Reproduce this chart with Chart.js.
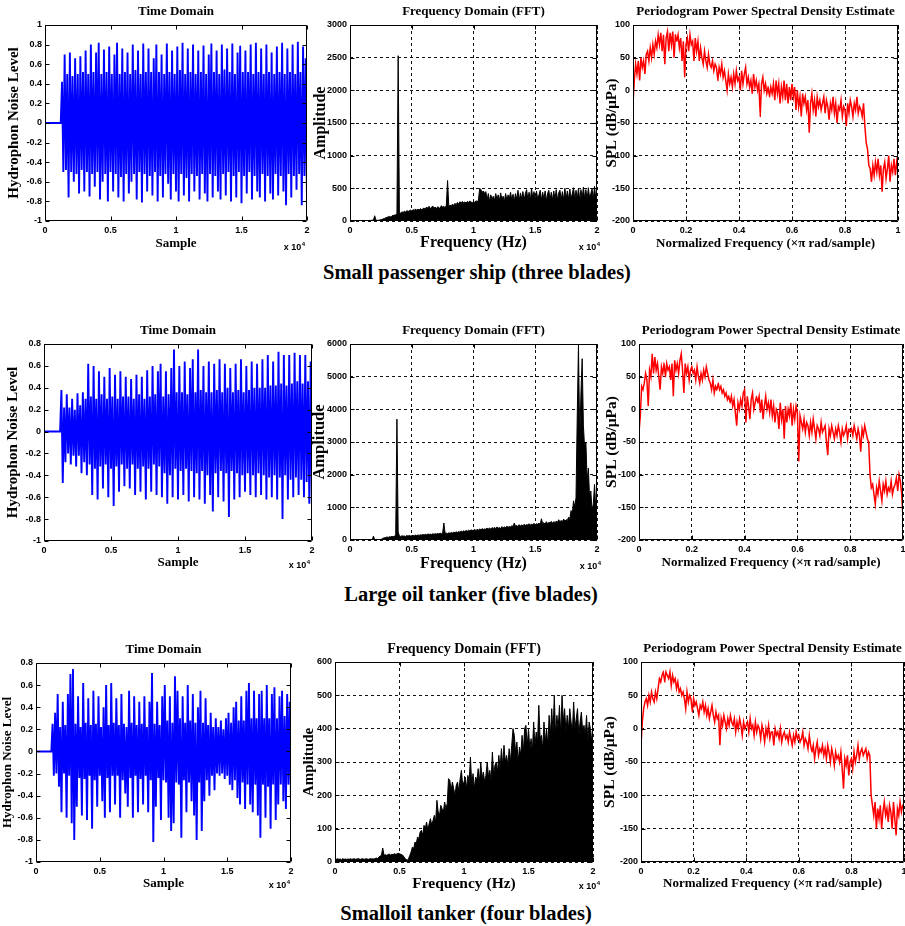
<!DOCTYPE html>
<html>
<head>
<meta charset="utf-8">
<script src="https://cdn.jsdelivr.net/npm/chart.js@4.4.0/dist/chart.umd.min.js"></script>
<style>
  html, body { margin: 0; padding: 0; background: #fff; overflow: hidden; }
  #fig { position: relative; width: 905px; height: 926px; overflow: hidden; background: #fff; }
  #fig canvas { position: absolute; }
  .caption { position: absolute; width: 500px; text-align: center; color: #000;
             font: bold 20.5px 'Liberation Serif', 'Times New Roman', serif; line-height: 24px; }
</style>
</head>
<body>
<div id="fig">
  <div class="caption" style="left:227px; top:260px;"></div>
  <div class="caption" style="left:221px; top:582px;"></div>
  <div class="caption" style="left:216px; top:901px;"></div>
</div>
<script>
// sample spacing of the arrays below
const tdStep = 100;     // samples
const fftStep = 100;    // Hz
const psdStep = 0.005;  // normalized frequency

// time domain, small passenger ship
const td1 = [
  0,0,0,0,0,0,0,0,0,0,0,0,0,
  0.42,-0.50, 0.70,-0.48, 0.50,-0.76, 0.72,-0.50, 0.48,-0.60,
  0.66,-0.52, 0.50,-0.72, 0.68,-0.48, 0.52,-0.70, 0.74,-0.50,
  0.50,-0.75, 0.80,-0.52, 0.52,-0.65, 0.72,-0.50, 0.82,-0.78,
  0.50,-0.60, 0.75,-0.52, 0.52,-0.80, 0.78,-0.50, 0.50,-0.70,
  0.70,-0.52, 0.82,-0.76, 0.50,-0.55, 0.76,-0.80, 0.52,-0.52,
  0.72,-0.72, 0.50,-0.60, 0.80,-0.52, 0.54,-0.78, 0.74,-0.50,
  0.50,-0.81, 0.81,-0.52, 0.52,-0.70, 0.76,-0.54, 0.52,-0.74,
  0.66,-0.50, 0.80,-0.80, 0.52,-0.54, 0.70,-0.76, 0.50,-0.52,
  0.81,-0.62, 0.52,-0.78, 0.74,-0.52, 0.50,-0.70, 0.78,-0.80,
  0.54,-0.52, 0.82,-0.74, 0.50,-0.56, 0.76,-0.80, 0.52,-0.52,
  0.80,-0.70, 0.50,-0.54, 0.74,-0.78, 0.52,-0.52, 0.79,-0.72,
  0.50,-0.80, 0.70,-0.52, 0.81,-0.76, 0.52,-0.54, 0.74,-0.70,
  0.50,-0.78, 0.80,-0.52, 0.54,-0.74, 0.76,-0.50, 0.52,-0.80,
  0.81,-0.54, 0.50,-0.76, 0.72,-0.50, 0.78,-0.82, 0.52,-0.54,
  0.74,-0.72, 0.52,-0.50, 0.80,-0.78, 0.50,-0.54, 0.82,-0.70,
  0.52,-0.76, 0.76,-0.52, 0.50,-0.80, 0.80,-0.54, 0.52,-0.72,
  0.72,-0.78, 0.50,-0.52, 0.78,-0.74, 0.52,-0.54, 0.82,-0.70,
  0.50,-0.84, 0.76,-0.52, 0.52,-0.76, 0.80,-0.54, 0.50,-0.68,
  0.83,-0.52, 0.52,-0.84, 0.78,-0.54, 0.66,-0.80
];

// time domain, large oil tanker
const td2 = [
  0,0,0,0,0,0,0,0,0,0,0,0,0,
  0.38,-0.47, 0.22,-0.28, 0.34,-0.20, 0.22,-0.30, 0.30,-0.22,
  0.20,-0.32, 0.35,-0.22, 0.24,-0.38, 0.36,-0.28, 0.30,-0.40,
  0.62,-0.30, 0.32,-0.58, 0.60,-0.34, 0.30,-0.62, 0.55,-0.32,
  0.34,-0.52, 0.50,-0.30, 0.30,-0.60, 0.58,-0.34, 0.32,-0.68,
  0.52,-0.32, 0.30,-0.55, 0.55,-0.30, 0.32,-0.50, 0.50,-0.34,
  0.32,-0.52, 0.48,-0.30, 0.30,-0.58, 0.52,-0.34, 0.34,-0.55,
  0.50,-0.32, 0.30,-0.62, 0.56,-0.34, 0.32,-0.55, 0.60,-0.30,
  0.34,-0.58, 0.55,-0.32, 0.62,-0.60, 0.32,-0.38, 0.55,-0.66,
  0.34,-0.40, 0.58,-0.60, 0.75,-0.34, 0.36,-0.62, 0.60,-0.36,
  0.36,-0.58, 0.64,-0.34, 0.34,-0.64, 0.58,-0.36, 0.66,-0.60,
  0.36,-0.38, 0.75,-0.62, 0.38,-0.36, 0.60,-0.66, 0.36,-0.40,
  0.64,-0.58, 0.36,-0.73, 0.62,-0.38, 0.38,-0.60, 0.66,-0.36,
  0.36,-0.64, 0.62,-0.38, 0.40,-0.78, 0.58,-0.36, 0.36,-0.62,
  0.62,-0.38, 0.38,-0.60, 0.66,-0.40, 0.36,-0.55, 0.60,-0.38,
  0.38,-0.58, 0.64,-0.40, 0.40,-0.60, 0.62,-0.38, 0.40,-0.58,
  0.66,-0.40, 0.40,-0.62, 0.70,-0.42, 0.42,-0.60, 0.64,-0.40,
  0.42,-0.62, 0.73,-0.42, 0.44,-0.80, 0.70,-0.40, 0.42,-0.62,
  0.70,-0.44, 0.44,-0.60, 0.72,-0.42, 0.46,-0.58, 0.70,-0.44,
  0.44,-0.60, 0.70,-0.46, 0.46,-0.66, 0.64,-0.72
];

// time domain, small oil tanker
const td3 = [
  0,0,0,0,0,0,0,0,0,0,0,0,0,
  0.25,-0.22, 0.35,-0.20, 0.52,-0.32, 0.22,-0.55, 0.45,-0.20,
  0.24,-0.60, 0.52,-0.22, 0.70,-0.65, 0.74,-0.80, 0.25,-0.50,
  0.50,-0.24, 0.22,-0.58, 0.62,-0.25, 0.26,-0.62, 0.48,-0.22,
  0.24,-0.70, 0.55,-0.26, 0.25,-0.50, 0.50,-0.22, 0.22,-0.45,
  0.40,-0.60, 0.60,-0.24, 0.24,-0.55, 0.62,-0.22, 0.26,-0.48,
  0.48,-0.22, 0.24,-0.60, 0.52,-0.26, 0.25,-0.38, 0.22,-0.50,
  0.55,-0.24, 0.26,-0.60, 0.50,-0.22, 0.24,-0.55, 0.45,-0.25,
  0.25,-0.48, 0.50,-0.22, 0.22,-0.55, 0.45,-0.26, 0.71,-0.82,
  0.25,-0.50, 0.45,-0.24, 0.24,-0.62, 0.50,-0.26, 0.60,-0.28,
  0.28,-0.60, 0.50,-0.72, 0.26,-0.65, 0.68,-0.28, 0.55,-0.30,
  0.30,-0.78, 0.50,-0.26, 0.26,-0.55, 0.60,-0.28, 0.28,-0.45,
  0.52,-0.58, 0.26,-0.80, 0.40,-0.28, 0.55,-0.72, 0.26,-0.45,
  0.48,-0.26, 0.24,-0.40, 0.35,-0.22, 0.22,-0.35, 0.30,-0.20,
  0.22,-0.22, 0.28,-0.20, 0.20,-0.25, 0.30,-0.22, 0.35,-0.30,
  0.26,-0.35, 0.40,-0.26, 0.45,-0.42, 0.28,-0.48, 0.50,-0.28,
  0.28,-0.52, 0.55,-0.30, 0.62,-0.48, 0.30,-0.55, 0.55,-0.30,
  0.30,-0.58, 0.52,-0.78, 0.55,-0.30, 0.30,-0.60, 0.60,-0.32,
  0.30,-0.70, 0.52,-0.30, 0.58,-0.62, 0.30,-0.48, 0.50,-0.30,
  0.55,-0.45, 0.32,-0.52, 0.52,-0.30, 0.45,-0.48
];

// FFT magnitudes
const fft1 = [
  10, 8, 6, 5, 5, 4, 5, 4, 5, 6,
  5, 6, 5, 6, 8, 6, 10, 8, 12, 15,
  80, 12, 10, 12, 15, 20, 25, 35, 40, 50,
  55, 65, 70, 60, 80, 85, 90, 95, 110, 2530,
  130, 120, 140, 130, 150, 135, 160, 145, 155, 170,
  150, 175, 160, 185, 165, 180, 170, 190, 175, 185,
  200, 180, 215, 195, 225, 190, 210, 230, 195, 215,
  185, 220, 200, 195, 235, 210, 225, 200, 240, 620,
  220, 245, 225, 260, 235, 270, 250, 285, 260, 295,
  270, 300, 280, 290, 275, 300, 285, 305, 290, 280,
  300, 285, 310, 295, 320, 500, 480, 440, 460, 420,
  450, 320, 420, 300, 400, 330, 380, 310, 420, 330,
  400, 310, 430, 330, 380, 300, 420, 320, 400, 340,
  440, 320, 410, 300, 420, 330, 470, 310, 430, 340,
  450, 320, 420, 480, 330, 440, 310, 500, 340, 450,
  320, 460, 330, 400, 470, 320, 440, 340, 460, 310,
  420, 470, 330, 440, 320, 460, 340, 480, 320, 430,
  470, 330, 450, 320, 500, 340, 460, 330, 490, 340,
  420, 510, 330, 470, 340, 500, 320, 480, 350, 520,
  340, 480, 330, 510, 350, 420, 490, 330, 530, 350,
  420
];
const fft2 = [
  10, 6, 5, 4, 5, 4, 5, 4, 5, 5,
  5, 4, 5, 6, 5, 6, 5, 6, 8, 120,
  10, 8, 10, 12, 15, 20, 30, 60, 70, 80,
  90, 80, 100, 95, 110, 100, 120, 130, 3700, 250,
  120, 110, 130, 115, 125, 110, 135, 120, 140, 125,
  130, 145, 125, 150, 135, 155, 140, 160, 150, 170,
  155, 175, 160, 185, 170, 180, 165, 190, 175, 195,
  180, 200, 185, 210, 190, 205, 520, 200, 215, 195,
  220, 205, 230, 215, 240, 225, 250, 230, 260, 240,
  270, 250, 280, 260, 290, 270, 300, 280, 310, 290,
  300, 320, 290, 330, 300, 340, 310, 350, 320, 340,
  330, 360, 340, 370, 330, 380, 350, 390, 340, 400,
  360, 380, 350, 410, 370, 400, 380, 420, 390, 410,
  400, 440, 410, 520, 420, 450, 410, 470, 430, 460,
  440, 480, 450, 470, 460, 500, 450, 490, 470, 510,
  460, 500, 480, 520, 470, 650, 500, 530, 480, 560,
  500, 540, 520, 570, 510, 560, 530, 580, 540, 620,
  550, 600, 560, 640, 580, 620, 600, 700, 650, 900,
  800, 1200, 1000, 1300, 3800, 6000, 3000, 4500, 5550, 3500,
  2800, 3000, 1800, 2200, 1300, 1500, 900, 1100, 1700, 1000,
  1200
];
const fft3 = [
  12, 8, 10, 8, 9, 7, 10, 8, 9, 8,
  9, 8, 10, 8, 9, 10, 8, 9, 10, 9,
  8, 10, 9, 8, 10, 9, 8, 10, 9, 10,
  9, 10, 12, 10, 15, 18, 20, 42, 20, 22,
  20, 22, 24, 21, 23, 22, 25, 23, 24, 26,
  25, 23, 22, 18, 12, 8, 5, 10, 20, 30,
  45, 40, 60, 55, 75, 70, 90, 95, 80, 110,
  100, 120, 95, 115, 130, 110, 125, 140, 120, 185,
  150, 140, 170, 160, 150, 180, 160, 175, 250, 245,
  215, 240, 220, 200, 230, 240, 210, 250, 275, 230,
  240, 255, 220, 260, 240, 315, 230, 265, 220, 255,
  245, 280, 240, 300, 250, 270, 240, 260, 300, 255,
  275, 245, 330, 260, 290, 300, 270, 320, 280, 340,
  290, 350, 300, 320, 290, 340, 300, 350, 400, 380,
  330, 360, 300, 345, 320, 380, 330, 400, 410, 350,
  400, 340, 370, 330, 420, 350, 390, 360, 470, 370,
  380, 340, 420, 360, 400, 350, 440, 380, 460, 390,
  500, 380, 440, 400, 470, 380, 500, 420, 460, 390,
  440, 400, 460, 420, 390, 480, 400, 430, 460, 380,
  420, 450, 390, 410, 380, 440, 360, 420, 400, 360,
  420
];

// periodogram PSD (dB)
const psd1 = [
  -20, 15, 40, 25, 45, 15, 50, 35, 45, 25,
  55, 60, 45, 65, 50, 70, 55, 75, 65, 85,
  70, 88, 60, 85, 40, 80, 90, 60, 88, 70,
  90, 50, 85, 75, 85, 65, 80, 45, 75, 20,
  70, 80, 60, 85, 70, 75, 45, 80, 60, 75,
  45, 65, 50, 40, 60, 45, 35, 55, 40, 35,
  45, 30, 40, 35, 15, 35, 25, 40, 20, 30,
  15, 0, 25, 10, 20, 5, 25, 10, 30, 15,
  20, 0, 30, 10, 25, 35, 10, 20, 5, 15,
  -5, 25, 5, 15, 0, 10, -40, 10, 20, 0,
  10, -5, 5, -10, 5, -5, 10, -15, 15, -5,
  10, -20, 5, -10, 15, -15, 10, -20, 5, -15,
  10, -10, 5, -30, 0, -25, -10, -40, -5, -20,
  -10, -30, -15, -65, -20, -5, -30, -15, -40, -10,
  -25, -15, -30, -20, -10, -35, -15, -25, -45, -20,
  -30, -10, -35, -20, -50, -25, -30, -15, -40, -25,
  -30, -55, -20, -35, -15, -25, -40, -20, -30, -10,
  -35, -25, -30, -40, -20, -55, -80, -90, -115, -120,
  -140, -115, -130, -110, -125, -105, -130, -115, -155, -120,
  -110, -135, -120, -100, -140, -115, -125, -105, -130, -110,
  -125
];
const psd2 = [
  -35, -10, 35, 30, 40, 55, 45, 5, 60, 50,
  85, 55, 80, 60, 70, 50, 30, 65, 55, 70,
  50, 70, 60, 65, 45, 70, 20, 75, 60, 70,
  55, 75, 85, 60, 25, 70, 55, 65, 45, 60,
  65, 55, 60, 45, 65, 50, 40, 55, 45, 60,
  50, 65, 55, 45, 40, 30, 45, 25, 35, 30,
  40, 30, 35, 25, 30, 20, 25, 15, 20, 10,
  20, 5, 15, -5, -25, 10, 0, 15, 5, 25,
  30, -20, 20, 5, -15, 15, 25, 0, 10, 20,
  10, 20, -5, 15, -15, 5, 20, 0, 10, -5,
  15, -10, 5, -20, 0, -5, -30, 10, -15, 0,
  -45, 5, -20, 0, -10, 10, -25, 0, -15, 5,
  -5, -80, -10, -20, -30, -15, -35, -20, -25, -40,
  -20, -35, -15, -30, -45, -25, -30, -40, -20, -35,
  -30, -25, -50, -70, -30, -40, -25, -35, -45, -30,
  -40, -25, -35, -50, -30, -40, -35, -25, -45, -30,
  -35, -30, -40, -25, -35, -45, -30, -40, -65, -30,
  -40, -25, -35, -45, -50, -100, -120, -115, -130, -145,
  -120, -130, -110, -125, -140, -115, -125, -110, -130, -120,
  -125, -110, -130, -120, -115, -105, -125, -100, -110, -130,
  -165
];
const psd3 = [
  -25, 10, 30, 40, 45, 35, 50, 40, 55, 45,
  40, 55, 45, 60, 75, 70, 80, 85, 70, 85,
  80, 75, 85, 65, 80, 70, 75, 60, 70, 55,
  60, 50, 55, 45, 30, 55, 40, 50, 45, 25,
  45, 35, 40, 30, 20, 35, 30, 40, 25, 35,
  20, 30, 15, 25, 35, 20, 10, 25, 15, 20,
  -25, 15, 5, 20, 10, 0, 15, 5, 20, 10,
  5, 15, -5, 10, 0, 15, 5, -10, 10, 0,
  5, 10, -5, 15, 0, 5, -10, 10, -5, 5,
  0, -15, 5, -5, -20, 0, -10, 5, -15, -5,
  -5, -25, 0, -10, -5, -15, 0, -20, -10, -5,
  -15, -10, -20, -5, -15, -25, -10, -20, -5, -15,
  -10, -20, -15, -5, -25, -15, -20, -30, -10, -25,
  -35, -25, -45, -30, -20, -40, -30, -35, -25, -40,
  -30, -45, -25, -35, -50, -30, -40, -55, -35, -45,
  -40, -50, -35, -60, -90, -45, -55, -40, -70, -50,
  -45, -60, -35, -50, -40, -25, -45, -35, -30, -40,
  -35, -30, -45, -35, -40, -100, -115, -130, -110, -150,
  -120, -135, -115, -150, -125, -110, -130, -120, -140, -115,
  -125, -150, -110, -135, -160, -120, -130, -110, -125, -115,
  -115
];

const captions = ['Small passenger ship (three blades)', 'Large oil tanker (five blades)', 'Smalloil tanker (four blades)'];

const serif = "'Liberation Serif', 'Times New Roman', serif";
const sans = "'Liberation Sans', Arial, sans-serif";
const tickFont = { family: sans, size: 9, weight: 'bold' };
const fig = document.getElementById('fig');

const fmt1 = v => String(+(+v).toFixed(1));
const fmtE4 = v => String(+(v / 1e4).toFixed(1));

// MATLAB style axes box with inward ticks and the "x 10^4" exponent label
const boxPlugin = {
  id: 'matlabBox',
  afterDatasetsDraw(chart, args, opts) {
    const { ctx, chartArea: a, scales } = chart;
    const l = Math.round(a.left) + 0.5, r = Math.round(a.right) - 0.5;
    const t = Math.round(a.top) + 0.5, b = Math.round(a.bottom) - 0.5;
    ctx.save();
    ctx.strokeStyle = '#000';
    ctx.lineWidth = 1;
    ctx.beginPath();
    ctx.rect(l, t, r - l, b - t);
    const tk = 4;
    scales.x.ticks.forEach(k => {
      const px = Math.round(scales.x.getPixelForValue(k.value)) + 0.5;
      ctx.moveTo(px, b); ctx.lineTo(px, b - tk);
      ctx.moveTo(px, t); ctx.lineTo(px, t + tk);
    });
    scales.y.ticks.forEach(k => {
      const py = Math.round(scales.y.getPixelForValue(k.value)) + 0.5;
      ctx.moveTo(l, py); ctx.lineTo(l + tk, py);
      ctx.moveTo(r, py); ctx.lineTo(r - tk, py);
    });
    ctx.stroke();
    if (opts.expo) {
      const [dx, dy] = opts.expo;
      ctx.fillStyle = '#000';
      ctx.textAlign = 'right';
      ctx.textBaseline = 'alphabetic';
      ctx.font = 'bold 6px ' + sans;
      const xr = a.right + dx;
      ctx.fillText('4', xr, a.bottom + dy - 1);
      const w4 = ctx.measureText('4').width;
      ctx.font = 'bold 9px ' + sans;
      ctx.fillText('x 10', xr - w4 - 0.5, a.bottom + dy + 3);
    }
    ctx.restore();
  }
};

function makePanel(p) {
  const rp = 8, th = 25;
  const w = p.yw + p.W + rp, h = th + p.H + p.xh;
  const cv = document.createElement('canvas');
  cv.width = w; cv.height = h;
  cv.style.left = (p.L - p.yw) + 'px';
  cv.style.top = (p.T - th) + 'px';
  cv.style.width = w + 'px';
  cv.style.height = h + 'px';
  fig.appendChild(cv);

  const tl = p.ts * 1.2;
  const padB = 13 - tl / 2;
  new Chart(cv, {
    type: 'line',
    data: {
      datasets: [{
        data: p.values.map((v, i) => ({ x: i * p.step, y: v })),
        borderColor: p.color,
        backgroundColor: p.color,
        borderWidth: p.lw,
        pointRadius: 0,
        // a tiny tension keeps every zigzag segment (no pixel merging)
        tension: p.fill ? 0 : 0.0001,
        fill: p.fill ? 'origin' : false
      }]
    },
    options: {
      responsive: false,
      animation: false,
      devicePixelRatio: 1,
      events: [],
      layout: { padding: { left: 0, right: rp, top: 0, bottom: 0 } },
      plugins: {
        legend: { display: false },
        tooltip: { enabled: false },
        title: {
          display: true, text: p.title, fullSize: false, color: '#000',
          font: { family: serif, size: p.ts, weight: 'bold', lineHeight: 1.2 },
          padding: { top: th - tl - padB, bottom: padB }
        },
        matlabBox: { expo: p.expo }
      },
      scales: {
        x: {
          type: 'linear', min: p.xMin, max: p.xMax,
          afterFit: s => { s.height = p.xh; },
          ticks: { stepSize: p.xStep, autoSkip: false, maxRotation: 0, padding: 4,
                   color: '#000', font: tickFont, callback: p.xFmt },
          grid: { display: p.grid, drawTicks: false, color: '#111', lineWidth: 1 },
          border: { display: false, dash: [3, 3] },
          title: { display: true, text: p.xTitle, color: '#000', padding: 0,
                   font: { family: serif, size: p.xs, weight: 'bold', lineHeight: 1.2 } }
        },
        y: {
          type: 'linear', min: p.yMin, max: p.yMax,
          afterFit: s => { s.width = p.yw; },
          ticks: { stepSize: p.yStep, autoSkip: false, padding: 3,
                   color: '#000', font: tickFont, callback: p.yFmt },
          grid: { display: p.grid, drawTicks: false, color: '#111', lineWidth: 1 },
          border: { display: false, dash: [3, 3] },
          title: { display: true, text: p.yTitle, color: '#000', padding: 0,
                   font: { family: serif, size: p.ys, weight: 'bold', lineHeight: 1.2 } }
        }
      }
    },
    plugins: [boxPlugin]
  });
}

const timeBase = { title: 'Time Domain', ts: 13, yTitle: 'Hydrophon Noise Level', xTitle: 'Sample', xs: 13,
  step: tdStep, xMin: 0, xMax: 20000, xStep: 5000, xFmt: fmtE4, yMin: -1, yStep: 0.2, yFmt: fmt1,
  color: '#0000ff', lw: 1.9, fill: false, grid: false };
const fftBase = { title: 'Frequency Domain (FFT)', ts: 13, yTitle: 'Amplitude', xTitle: 'Frequency (Hz)',
  step: fftStep, xMin: 0, xMax: 20000, xStep: 5000, xFmt: fmtE4, yMin: 0, yFmt: v => String(v),
  color: '#000000', lw: 1, fill: true, grid: true };
const psdBase = { title: 'Periodogram Power Spectral Density Estimate', ts: 13, yTitle: 'SPL (dB/\u03bcPa)',
  xTitle: 'Normalized Frequency (\u00d7\u03c0 rad/sample)', xs: 13,
  step: psdStep, xMin: 0, xMax: 1, xStep: 0.2, xFmt: fmt1, yMin: -200, yMax: 100, yStep: 50, yFmt: v => String(v),
  color: '#ff0000', lw: 1.5, fill: false, grid: true };

// row 1
makePanel(Object.assign({}, timeBase, { values: td1, L: 45, T: 25, W: 262, H: 196, yw: 40, xh: 30, ys: 15, yMax: 1, expo: [-2, 26] }));
makePanel(Object.assign({}, fftBase, { values: fft1, L: 350, T: 25, W: 247, H: 196, yw: 39, xh: 31, ys: 16, xs: 16, yMax: 3000, yStep: 500, expo: [3, 26] }));
makePanel(Object.assign({}, psdBase, { values: psd1, L: 633, T: 25, W: 265, H: 196, yw: 30, xh: 30, ys: 15 }));
// row 2
makePanel(Object.assign({}, timeBase, { values: td2, L: 44, T: 344, W: 268, H: 197, yw: 40, xh: 29, ys: 15, yMax: 0.8, expo: [-2, 24] }));
makePanel(Object.assign({}, fftBase, { values: fft2, L: 350, T: 344, W: 247, H: 196, yw: 40, xh: 33, ys: 16.5, xs: 16, yMax: 6000, yStep: 1000, expo: [4, 26] }));
makePanel(Object.assign({}, psdBase, { values: psd2, L: 639, T: 344, W: 264, H: 196, yw: 36, xh: 30, ys: 15.5 }));
// row 3
makePanel(Object.assign({}, timeBase, { values: td3, L: 36, T: 663, W: 255, H: 199, yw: 36, xh: 29, ys: 13, yMax: 0.8, expo: [-1, 23] }));
makePanel(Object.assign({}, fftBase, { values: fft3, L: 335, T: 662, W: 258, H: 200, yw: 35, xh: 31, ts: 14, ys: 15, xs: 15.5, yMax: 600, yStep: 100, expo: [7, 24] }));
makePanel(Object.assign({}, psdBase, { values: psd3, L: 641, T: 662, W: 263, H: 200, yw: 40, xh: 29, ys: 15.5 }));

// captions text from the array
document.querySelectorAll('.caption').forEach((el, i) => { el.textContent = captions[i]; });
</script>
</body>
</html>
